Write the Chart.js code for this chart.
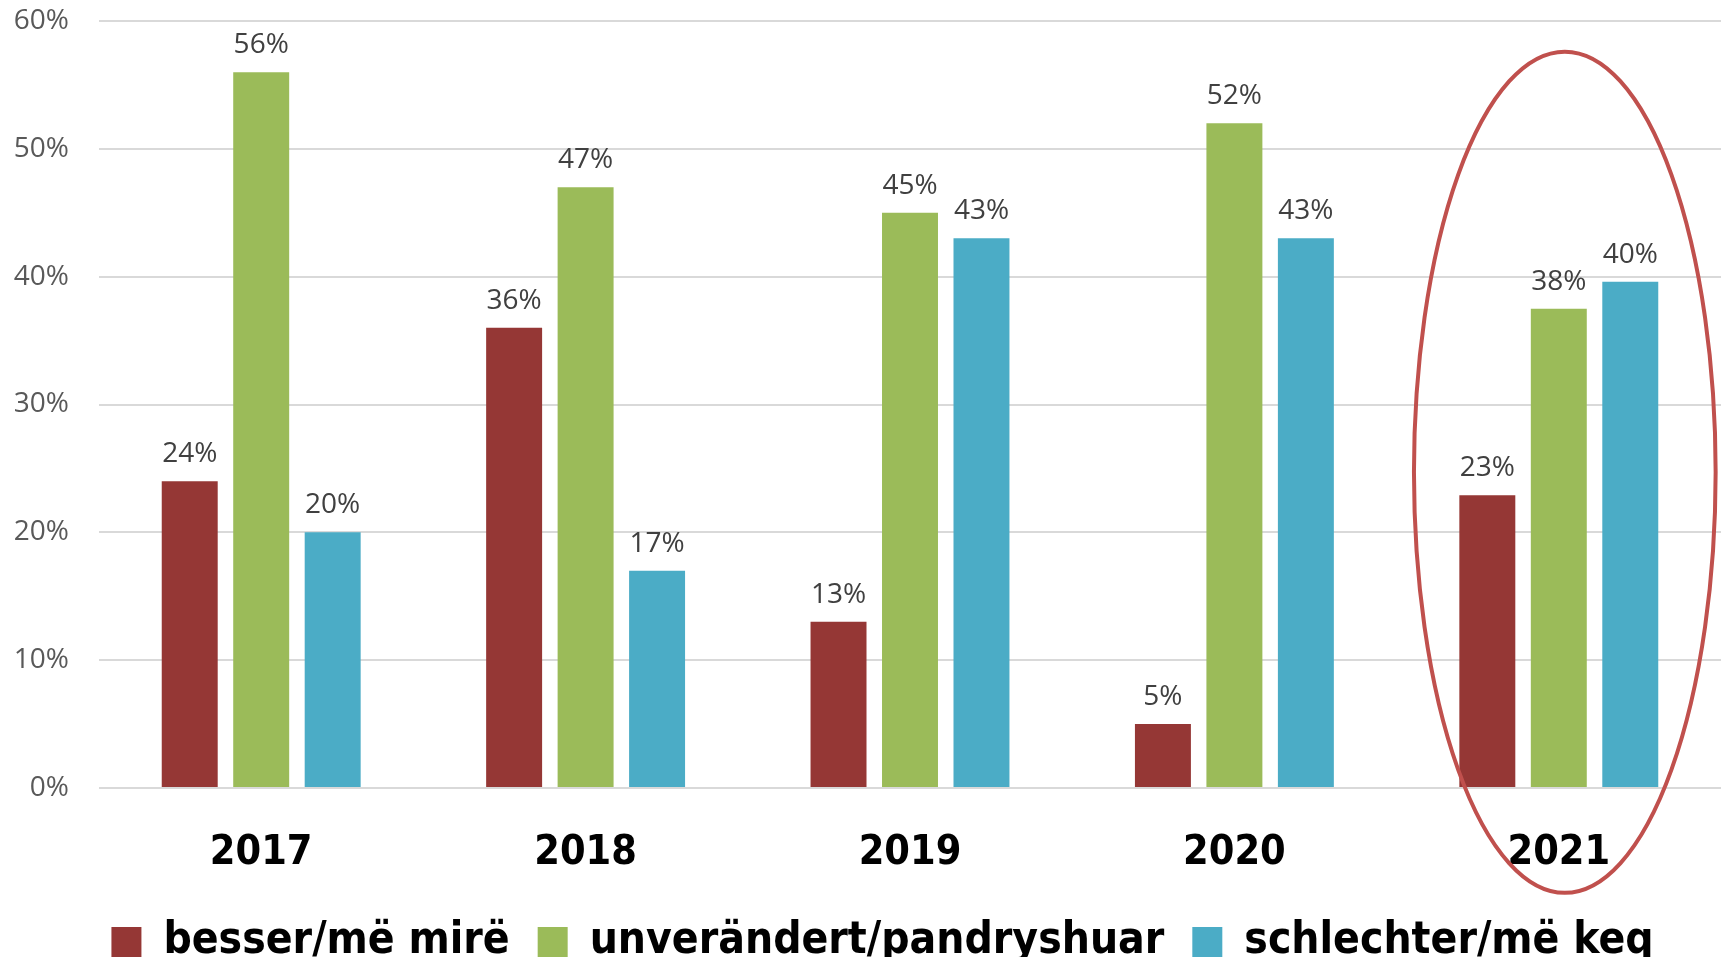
<!DOCTYPE html>
<html>
<head>
<meta charset="utf-8">
<title>besser / unverändert / schlechter</title>
<script src="https://cdn.jsdelivr.net/npm/chart.js@4.4.1/dist/chart.umd.min.js"></script>
<style>
  html, body { margin: 0; padding: 0; background: #fff; }
  #wrap { position: relative; width: 1725px; height: 957px; }
</style>
</head>
<body>
<div id="wrap"><canvas id="chart"></canvas></div>
<script>
// categories and series
const years = ['2017', '2018', '2019', '2020', '2021'];
const besser = [24, 36, 13, 5, 22.9];
const unveraendert = [56, 47, 45, 52, 37.5];
const schlechter = [20, 17, 43, 43, 39.6];
const seriesNames = ['besser/më mirë', 'unverändert/pandryshuar', 'schlechter/më keq'];
const seriesColors = ['#953735', '#9BBB59', '#4BACC6'];
const yTicks = [0, 10, 20, 30, 40, 50, 60];
// highlighted year (ellipse)
const highlightIndex = 4;

const narrowBold = "'Liberation Sans Narrow', 'DejaVu Sans Condensed', 'Roboto Condensed', sans-serif";
const numFont = "'Open Sans', 'Noto Sans', sans-serif";

// value labels above each bar
const barLabels = {
  id: 'barLabels',
  afterDatasetsDraw(chart) {
    const ctx = chart.ctx;
    ctx.save();
    ctx.font = '28px ' + numFont;
    ctx.fillStyle = '#404040';
    ctx.textAlign = 'center';
    ctx.textBaseline = 'alphabetic';
    chart.data.datasets.forEach((ds, i) => {
      chart.getDatasetMeta(i).data.forEach((bar, j) => {
        ctx.fillText(Math.round(ds.data[j]) + '%', bar.x, bar.y - 19);
      });
    });
    ctx.restore();
  }
};

// red ellipse around the last year
const highlight = {
  id: 'highlight',
  afterDraw(chart) {
    const x = chart.scales.x, y = chart.scales.y;
    const catW = x.getPixelForValue(1) - x.getPixelForValue(0);
    const cx = x.getPixelForValue(highlightIndex) + 6;
    const top = y.getPixelForValue(57.6);
    const bottom = y.getPixelForValue(-8.2);
    const ctx = chart.ctx;
    ctx.save();
    ctx.strokeStyle = '#C0504D';
    ctx.lineWidth = 4;
    ctx.beginPath();
    ctx.ellipse(cx, (top + bottom) / 2, catW * 0.465, (bottom - top) / 2, 0, 0, Math.PI * 2);
    ctx.stroke();
    ctx.restore();
  }
};

// the legend sits a bit right of the canvas centre in the original
const legendShift = {
  id: 'legendShift',
  afterLayout(chart) {
    if (chart.legend) {
      chart.legend.left += 22;
      chart.legend.right += 22;
    }
  }
};

const datasets = [besser, unveraendert, schlechter].map((values, i) => ({
  label: seriesNames[i],
  data: values,
  backgroundColor: seriesColors[i],
  borderWidth: 0,
  categoryPercentage: 0.661,
  barPercentage: 0.783
}));

new Chart(document.getElementById('chart'), {
  type: 'bar',
  data: { labels: years, datasets: datasets },
  plugins: [barLabels, highlight, legendShift],
  options: {
    responsive: true,
    maintainAspectRatio: false,
    animation: false,
    layout: { padding: { top: 21, right: 4, left: 0, bottom: -17 } },
    plugins: {
      tooltip: { enabled: false },
      legend: {
        position: 'bottom',
        labels: {
          color: '#000',
          boxWidth: 30,
          boxHeight: 30,
          padding: 28,
          font: { family: narrowBold, size: 44, weight: 'bold' }
        }
      }
    },
    scales: {
      x: {
        afterFit(scale) { scale.height = 104; },
        grid: { display: false },
        border: { display: false },
        ticks: {
          color: '#000',
          padding: 33,
          font: { family: narrowBold, size: 41, weight: 'bold' }
        }
      },
      y: {
        min: 0,
        max: 60,
        afterFit(scale) {
          scale.width = 99;
          scale.paddingTop = 0;
          scale.paddingBottom = 0;
        },
        afterBuildTicks(scale) { scale.ticks = yTicks.map(v => ({ value: v })); },
        grid: { color: '#d9d9d9', lineWidth: 2, drawTicks: false },
        border: { display: false },
        ticks: {
          color: '#595959',
          padding: 30,
          font: { family: numFont, size: 28 },
          callback: v => v + '%'
        }
      }
    }
  }
});
</script>
</body>
</html>
